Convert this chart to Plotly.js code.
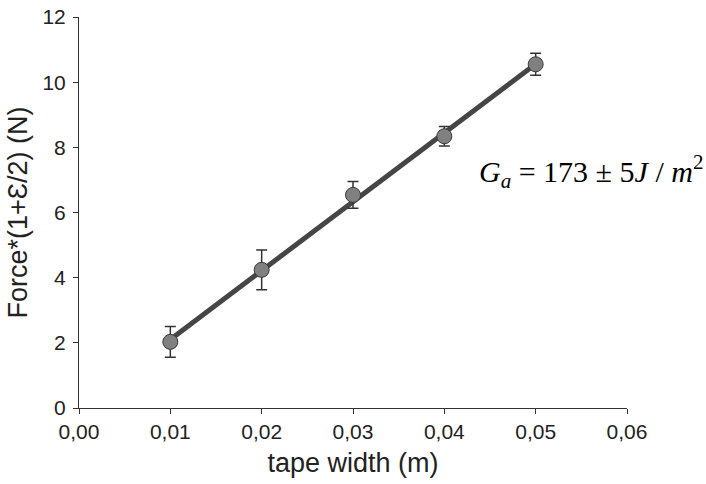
<!DOCTYPE html>
<html>
<head>
<meta charset="utf-8">
<script src="https://cdn.plot.ly/plotly-3.0.1.min.js"></script>
<style>html,body{margin:0;padding:0;background:#fff;}#chart{width:706px;height:484px;}</style>
</head>
<body>
<div id="chart"></div>
<script>
// Data
const tapeWidth = [0.01, 0.02, 0.03, 0.04, 0.05];
const forceCorr = [2.03, 4.24, 6.54, 8.34, 10.55];
const forceErr  = [0.47, 0.61, 0.41, 0.30, 0.34];
const fitX = [0.01, 0.05];
const fitY = [2.10, 10.56];
const xTickVals = [0, 0.01, 0.02, 0.03, 0.04, 0.05, 0.06];
const yTickVals = [0, 2, 4, 6, 8, 10, 12];

const fitTrace = {
  x: fitX, y: fitY, mode: 'lines', type: 'scatter',
  line: {color: '#454545', width: 5}, hoverinfo: 'skip', showlegend: false
};
const dataTrace = {
  x: tapeWidth, y: forceCorr, mode: 'markers', type: 'scatter',
  marker: {size: 15, color: '#808080', line: {color: '#3a3a3a', width: 1}},
  error_y: {type: 'data', array: forceErr, visible: true, color: '#333333', thickness: 1.5, width: 5.5},
  showlegend: false
};

const axisFont = {family: 'Liberation Sans, Arial, sans-serif', size: 21, color: '#222'};
const layout = {
  width: 706, height: 484,
  margin: {l: 79, r: 79, t: 17, b: 76, pad: 0},
  paper_bgcolor: '#ffffff', plot_bgcolor: '#ffffff',
  separators: ',.',
  showlegend: false,
  xaxis: {
    range: [0, 0.06], tickvals: xTickVals, tickformat: '.2f',
    showgrid: false, zeroline: false, showline: true, linecolor: '#333', linewidth: 1,
    ticks: 'outside', ticklen: 5, tickcolor: '#333', tickwidth: 1,
    tickfont: axisFont,
    title: {text: 'tape width (m)', font: {family: 'Liberation Sans, Arial, sans-serif', size: 27, color: '#222'}, standoff: 10}
  },
  yaxis: {
    range: [0, 12], tickvals: yTickVals,
    showgrid: false, zeroline: false, showline: true, linecolor: '#333', linewidth: 1,
    ticks: 'outside', ticklen: 5, tickcolor: '#333', tickwidth: 1,
    ticklabelstandoff: 3,
    tickfont: axisFont,
    title: {text: 'Force*(1+Ɛ/2) (N)', font: {family: 'Liberation Sans, Arial, sans-serif', size: 27, color: '#222'}, standoff: 6}
  },
  annotations: [{
    xref: 'x', yref: 'y', x: 0.0561, y: 7.25, xanchor: 'center', yanchor: 'middle',
    showarrow: false,
    text: '<i>G</i><sub><i>a</i></sub> = 173 ± 5<i>J</i> / <i>m</i><sup>2</sup>',
    font: {family: 'Liberation Serif, Times New Roman, serif', size: 30, color: '#000'}
  }]
};

Plotly.newPlot('chart', [fitTrace, dataTrace], layout, {staticPlot: true, displayModeBar: false});
</script>
</body>
</html>
